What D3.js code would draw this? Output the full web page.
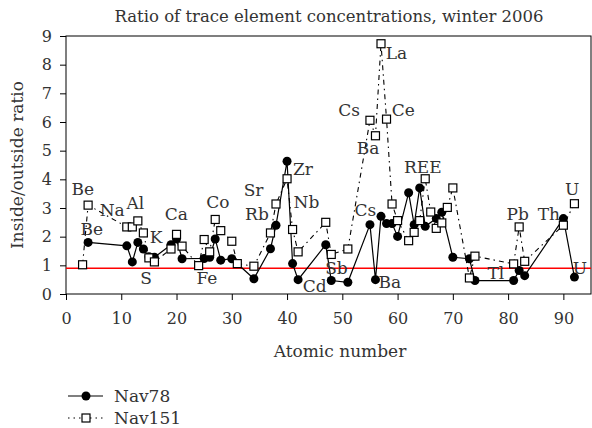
<!DOCTYPE html>
<html>
<head>
<meta charset="utf-8">
<script src="https://cdn.jsdelivr.net/npm/d3@7/dist/d3.min.js"></script>
<style>
body { margin: 0; background: #fff; }
svg text { font-family: "DejaVu Serif", "Liberation Serif", serif; fill: #333; }
.axis path, .axis line { stroke: #000; }
.axis text { font-size: 16px; fill: #333; font-family: "DejaVu Serif", serif; }
</style>
</head>
<body>
<svg width="592" height="428"></svg>
<script>

// atomic numbers + ratios
var nav78Z   = [4, 11, 12, 13, 14, 15, 16, 19, 20, 21, 25, 26, 27, 28, 30, 34, 37, 38, 40, 41, 42, 47, 48, 51, 55, 56, 57, 58, 59, 60, 62, 63, 64, 65, 67, 68, 70, 73, 74, 81, 82, 83, 90, 92];
var nav78Val = [1.8, 1.68, 1.12, 1.8, 1.57, 1.3, 1.28, 1.72, 1.92, 1.23, 1.24, 1.28, 1.92, 1.18, 1.23, 0.53, 1.58, 2.4, 4.63, 1.06, 0.5, 1.72, 0.47, 0.41, 2.42, 0.5, 2.71, 2.46, 2.46, 2.01, 3.53, 2.42, 3.7, 2.36, 2.63, 2.85, 1.28, 1.23, 0.47, 0.47, 0.82, 0.64, 2.63, 0.59];

var nav151Z   = [3, 4, 11, 12, 13, 14, 15, 16, 19, 20, 21, 24, 25, 26, 27, 28, 30, 31, 34, 37, 38, 40, 41, 42, 47, 48, 51, 55, 56, 57, 58, 59, 60, 62, 63, 64, 65, 66, 67, 68, 69, 70, 73, 74, 81, 82, 83, 90, 92];
var nav151Val = [1.02, 3.1, 2.34, 2.34, 2.55, 2.13, 1.26, 1.12, 1.57, 2.08, 1.67, 0.99, 1.9, 1.47, 2.6, 2.21, 1.84, 1.06, 0.97, 2.13, 3.14, 4.02, 2.25, 1.47, 2.5, 1.38, 1.57, 6.06, 5.52, 8.73, 6.1, 3.14, 2.56, 1.86, 2.15, 2.56, 4.02, 2.86, 2.29, 2.48, 3.02, 3.7, 0.56, 1.32, 1.05, 2.34, 1.14, 2.4, 3.15];

// element labels: text, x (atomic number), y (ratio) at the text baseline
var labelText = ["Be", "Na", "Be", "Al", "K", "S", "Ca", "Fe", "Co", "Sr", "Rb", "Zr", "Nb", "Cd", "Sb", "Cs", "Ba", "La", "Ce", "Cs", "Ba", "REE", "Tl", "Pb", "Th", "U", "U"];
var labelX    = [3.03, 8.35, 4.66, 12.57, 16.32, 14.51, 19.95, 25.49, 27.48, 33.95, 34.55, 42.88, 43.5, 45.0, 48.93, 51.21, 54.66, 59.8, 61.03, 54.18, 58.59, 64.57, 77.79, 81.72, 87.39, 91.6, 93.0];
var labelY    = [3.45, 2.72, 2.06, 2.97, 1.77, 0.36, 2.57, 0.34, 3.01, 3.41, 2.58, 4.15, 3.01, 0.07, 0.69, 6.2, 4.87, 8.21, 6.22, 2.72, 0.2, 4.23, 0.51, 2.57, 2.57, 3.47, 0.69];

var xTicks = [0, 10, 20, 30, 40, 50, 60, 70, 80, 90];
var yTicks = [0, 1, 2, 3, 4, 5, 6, 7, 8, 9];
var refLine = 0.9;

var svg = d3.select("svg"),
    margin = {top: 36, right: 1, bottom: 134, left: 66},
    width = +svg.attr("width") - margin.left - margin.right,
    height = +svg.attr("height") - margin.top - margin.bottom;

var x = d3.scaleLinear().domain([0, 95]).range([0, width]);
var y = d3.scaleLinear().domain([0, 9]).range([height, 0]);

var g = svg.append("g").attr("transform", "translate(" + margin.left + "," + margin.top + ")");

// frame
g.append("rect")
    .attr("width", width).attr("height", height)
    .attr("fill", "none").attr("stroke", "#000").attr("stroke-width", 1);

g.append("g").attr("class", "axis")
    .attr("transform", "translate(0," + height + ")")
    .call(d3.axisBottom(x).tickValues(xTicks).tickSizeOuter(0).tickSize(6).tickPadding(13));

g.append("g").attr("class", "axis")
    .call(d3.axisLeft(y).tickValues(yTicks).tickSizeOuter(0).tickSize(6).tickPadding(8));

g.selectAll(".axis .domain").remove();

// reference line
g.append("line")
    .attr("x1", 0).attr("x2", width)
    .attr("y1", y(refLine)).attr("y2", y(refLine))
    .attr("stroke", "#f00").attr("stroke-width", 1.5);

var nav78 = nav78Z.map(function(z, i) { return {z: z, v: nav78Val[i]}; });
var nav151 = nav151Z.map(function(z, i) { return {z: z, v: nav151Val[i]}; });

var line = d3.line()
    .x(function(d) { return x(d.z); })
    .y(function(d) { return y(d.v); });

g.append("path").datum(nav78)
    .attr("d", line)
    .attr("fill", "none").attr("stroke", "#000").attr("stroke-width", 1.2);

g.append("path").datum(nav151)
    .attr("d", line)
    .attr("fill", "none").attr("stroke", "#000").attr("stroke-width", 1.1)
    .attr("stroke-dasharray", "5,4,1.5,4");

g.selectAll(".dot78").data(nav78).enter().append("circle")
    .attr("cx", function(d) { return x(d.z); })
    .attr("cy", function(d) { return y(d.v); })
    .attr("r", 4.5).attr("fill", "#000");

g.selectAll(".sq151").data(nav151).enter().append("rect")
    .attr("x", function(d) { return x(d.z) - 4; })
    .attr("y", function(d) { return y(d.v) - 4; })
    .attr("width", 8).attr("height", 8)
    .attr("fill", "#fff").attr("stroke", "#000").attr("stroke-width", 1.2);

// element labels
g.selectAll(".lbl").data(labelText).enter().append("text")
    .attr("x", function(d, i) { return x(labelX[i]); })
    .attr("y", function(d, i) { return y(labelY[i]); })
    .attr("text-anchor", "middle")
    .style("font-size", "17px")
    .text(function(d) { return d; });

// titles
svg.append("text")
    .attr("x", 329).attr("y", 22)
    .attr("text-anchor", "middle")
    .style("font-size", "16.5px")
    .text("Ratio of trace element concentrations, winter 2006");

svg.append("text")
    .attr("x", 340).attr("y", 357)
    .attr("text-anchor", "middle")
    .style("font-size", "17px")
    .text("Atomic number");

svg.append("text")
    .attr("transform", "translate(23," + (margin.top + height / 2) + ") rotate(-90)")
    .attr("text-anchor", "middle")
    .style("font-size", "17px")
    .text("Inside/outside ratio");

// legend
var leg = svg.append("g").attr("transform", "translate(68,396)");
leg.append("line").attr("x1", 0).attr("x2", 35).attr("y1", 0).attr("y2", 0)
    .attr("stroke", "#000").attr("stroke-width", 1.2);
leg.append("circle").attr("cx", 18).attr("cy", 0).attr("r", 4.5).attr("fill", "#000");
leg.append("text").attr("x", 46).attr("y", 6).style("font-size", "17px").text("Nav78");

leg.append("line").attr("x1", 0).attr("x2", 35).attr("y1", 22).attr("y2", 22)
    .attr("stroke", "#000").attr("stroke-width", 1.1).attr("stroke-dasharray", "1.5,4");
leg.append("rect").attr("x", 14).attr("y", 18).attr("width", 8).attr("height", 8)
    .attr("fill", "#fff").attr("stroke", "#000").attr("stroke-width", 1.2);
leg.append("text").attr("x", 46).attr("y", 28).style("font-size", "17px").text("Nav151");

</script>
</body>
</html>
